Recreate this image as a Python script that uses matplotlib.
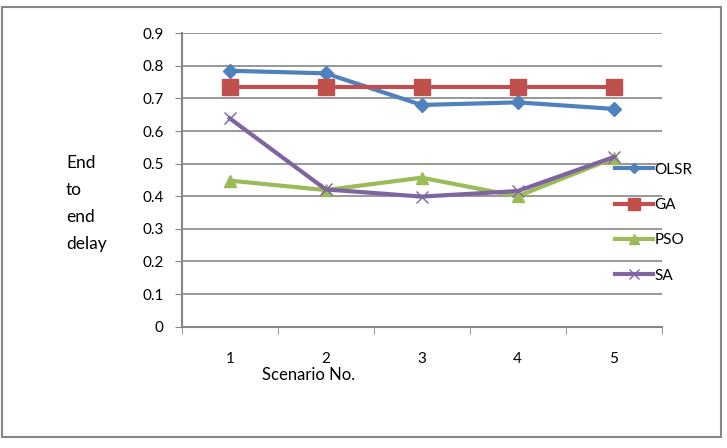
import numpy as np
import matplotlib.pyplot as plt
from matplotlib.patches import Rectangle

plt.rcParams['font.family'] = ['Liberation Sans Narrow', 'Lato', 'DejaVu Sans']

scenarios = [1, 2, 3, 4, 5]
olsr = [0.785, 0.777, 0.68, 0.688, 0.668]
ga = [0.735, 0.735, 0.735, 0.735, 0.735]
pso = [0.448, 0.419, 0.457, 0.40, 0.517]
sa = [0.639, 0.421, 0.399, 0.416, 0.52]
yticks = [0, 0.1, 0.2, 0.3, 0.4, 0.5, 0.6, 0.7, 0.8, 0.9]

fig = plt.figure(figsize=(7.27, 4.48), dpi=100)
ax = fig.add_axes([0.25, 0.2708, 0.66, 0.655])

grey = '#868686'
ax.plot(scenarios, olsr, color='#4F81BD', lw=3, marker='D', ms=7, label='OLSR', zorder=3)
ax.plot(scenarios, ga, color='#C0504D', lw=3, marker='s', ms=11, label='GA', zorder=3)
ax.plot(scenarios, pso, color='#9BBB59', lw=3, marker='^', ms=9, label='PSO', zorder=3)
ax.plot(scenarios, sa, color='#8064A2', lw=3, marker='x', ms=9, mew=1, label='SA', zorder=4)

ax.set_xlim(0.5, 5.5)
ax.set_ylim(0, 0.9)
ax.set_yticks(yticks)
ax.set_yticklabels([('%g' % v) for v in yticks], fontsize=11)
ax.set_xticks(scenarios)
ax.set_xticklabels([str(s) for s in scenarios], fontsize=11)
ax.set_xticks(np.arange(0.5, 6, 1), minor=True)
ax.tick_params(axis='x', which='major', length=0, pad=18)
ax.tick_params(axis='x', which='minor', length=5, color=grey, direction='out')
ax.tick_params(axis='y', length=5, color=grey, direction='out', pad=8)

ax.grid(axis='y', color=grey, lw=1.2)
ax.set_axisbelow(True)
for s in ['top', 'right']:
    ax.spines[s].set_visible(False)
for s in ['left', 'bottom']:
    ax.spines[s].set_color(grey)
    ax.spines[s].set_linewidth(1.5)

ax.set_xlabel('Scenario No.', fontsize=12, labelpad=1, x=0.265)
fig.text(66 / 727, 1 - 155 / 448, 'End\nto\nend\ndelay', fontsize=12.5,
         va='top', ha='left', linespacing=1.85)

leg = ax.legend(loc='upper left', bbox_to_anchor=(0.89, 0.58), frameon=False,
                fontsize=11, handlelength=2.5, handletextpad=0.1,
                labelspacing=1.4, borderaxespad=0, markerscale=0.8)

fig.patches.append(Rectangle((2 / 727, 1 - 437 / 448), 719 / 727, 430 / 448,
                             transform=fig.transFigure, fill=False,
                             edgecolor=grey, lw=1.5))

fig.savefig('out.png', dpi=100)
